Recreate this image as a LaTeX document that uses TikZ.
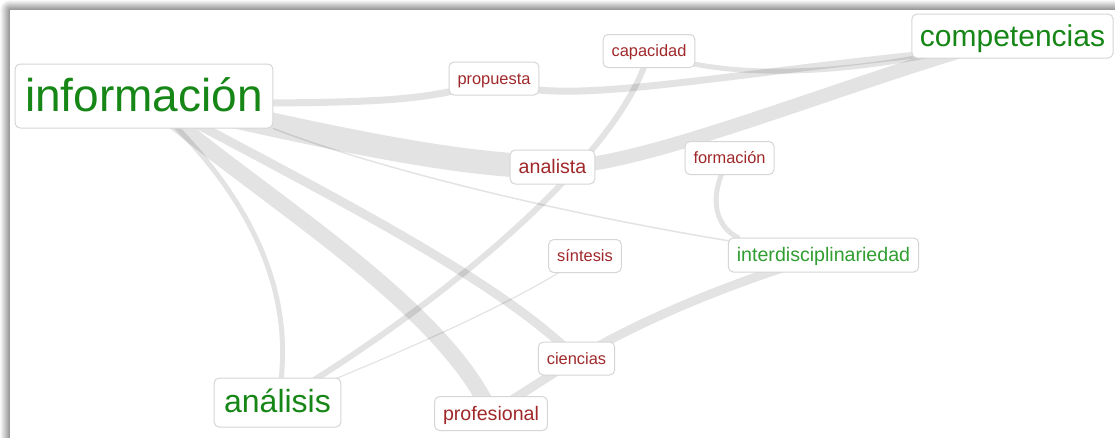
\documentclass[tikz,border=0pt]{standalone}
\usepackage{fontspec}
\setmainfont{Liberation Sans}
\usepackage{xcolor}
\usepackage{tikz}

\definecolor{hubgreen}{RGB}{22,135,22}
\definecolor{softgreen}{RGB}{48,158,48}
\definecolor{wordred}{RGB}{160,40,42}
\definecolor{boxline}{RGB}{214,214,214}

\pgfdeclarelayer{frame}
\pgfdeclarelayer{links}
\pgfsetlayers{frame,links,main}

\begin{document}
\begin{tikzpicture}[x=1pt,y=-1pt]
            \tikzstyle{word}=[rectangle, draw=boxline, line width=1pt, fill=white, rounded corners=5pt, inner xsep=8.5pt, inner ysep=1pt, text=wordred]
            \tikzstyle{hub}=[word, text=hubgreen, inner xsep=10pt]
            \tikzstyle{wbig}=[font=\fontsize{46}{46}\selectfont, text height=41.4pt, text depth=9.7pt, minimum height=64pt]
            \tikzstyle{wlarge}=[font=\fontsize{30}{30}\selectfont, text height=27pt, text depth=6.3pt, minimum height=44pt]
            \tikzstyle{wmid}=[font=\fontsize{19.6}{19.6}\selectfont, text height=17.6pt, text depth=4.1pt, minimum height=34pt]
            \tikzstyle{wsmall}=[font=\fontsize{16.4}{16.4}\selectfont, text height=14.8pt, text depth=3.4pt, minimum height=33pt]
            \tikzstyle{link}=[draw=black, draw opacity=0.11, line cap=round]
            \useasboundingbox (0,0) rectangle (1115,437);
            \clip (0,0) rectangle (1115,437);
            \node[hub, wbig] (informacion) at (144,96) {información};
            \node[hub, wlarge, inner xsep=8pt] (competencias) at (1012.5,36) {competencias};
            \node[hub, wlarge, font=\fontsize{32}{32}\selectfont, minimum height=49pt] (analisis) at (277.5,402.5) {análisis};
            \node[hub, wmid, text=softgreen, inner xsep=8.5pt] (interdisciplinariedad) at (823.5,255) {interdisciplinariedad};
            \node[word, wmid] (analista) at (552.5,167) {analista};
            \node[word, wmid] (profesional) at (491,413.5) {profesional};
            \node[word, wsmall] (propuesta) at (494,78.5) {propuesta};
            \node[word, wsmall] (capacidad) at (649,51) {capacidad};
            \node[word, wsmall] (formacion) at (729.5,158) {formación};
            \node[word, wsmall] (sintesis) at (585,256) {síntesis};
            \node[word, wsmall] (ciencias) at (576.5,358.5) {ciencias};
            \begin{pgfonlayer}{frame}
                \fill[white] (0,0) rectangle (1115,437);
                \foreach \k [evaluate=\k as \g using 44-4.2*\k] in {10,...,1}
                    \fill[black!\g, rounded corners=\k pt] (10-\k,10-\k) rectangle (1140,470);
                \fill[white] (10,10) rectangle (1140,470);
            \end{pgfonlayer}
            \begin{pgfonlayer}{links}
                \draw[link, line width=7pt] ([yshift=-7pt]informacion.east) .. controls (380,102) and (440,100) .. (propuesta.center);
                \draw[link, line width=7pt] (propuesta.center) .. controls (550,108) and (680,80) .. ([yshift=3pt]competencias.south west);
                \draw[link, line width=24pt] (informacion.center) .. controls (330,138) and (450,165) .. (analista.center);
                \draw[link, line width=14pt] (analista.center) .. controls (640,170) and (850,80) .. (competencias.center);
                \draw[link, line width=5pt] (capacidad.center) .. controls (720,80) and (850,80) .. (competencias.center);
                \draw[link, line width=6pt] (capacidad.center) .. controls (625,150) and (450,300) .. (analisis.center);
                \draw[link, line width=5pt] (informacion.center) .. controls (215,160) and (305,265) .. (analisis.center);
                \draw[link, line width=16pt] (informacion.center) .. controls (250,190) and (440,300) .. (profesional.center);
                \draw[link, line width=9pt] (informacion.center) .. controls (320,190) and (500,280) .. (ciencias.center);
                \draw[link, line width=1.5pt] (informacion.south east) .. controls (380,170) and (600,225) .. (interdisciplinariedad.center);
                \draw[link, line width=1.2pt] (analisis.center) .. controls (420,345) and (520,300) .. (sintesis.center);
                \draw[link, line width=5pt] (formacion.center) .. controls (705,200) and (718,228) .. ([xshift=10pt]interdisciplinariedad.north west);
                \draw[link, line width=9pt] (ciencias.center) -- (profesional.center);
                \draw[link, line width=9pt] (ciencias.center) .. controls (650,315) and (740,280) .. (interdisciplinariedad.center);
            \end{pgfonlayer}
\end{tikzpicture}
\end{document}
